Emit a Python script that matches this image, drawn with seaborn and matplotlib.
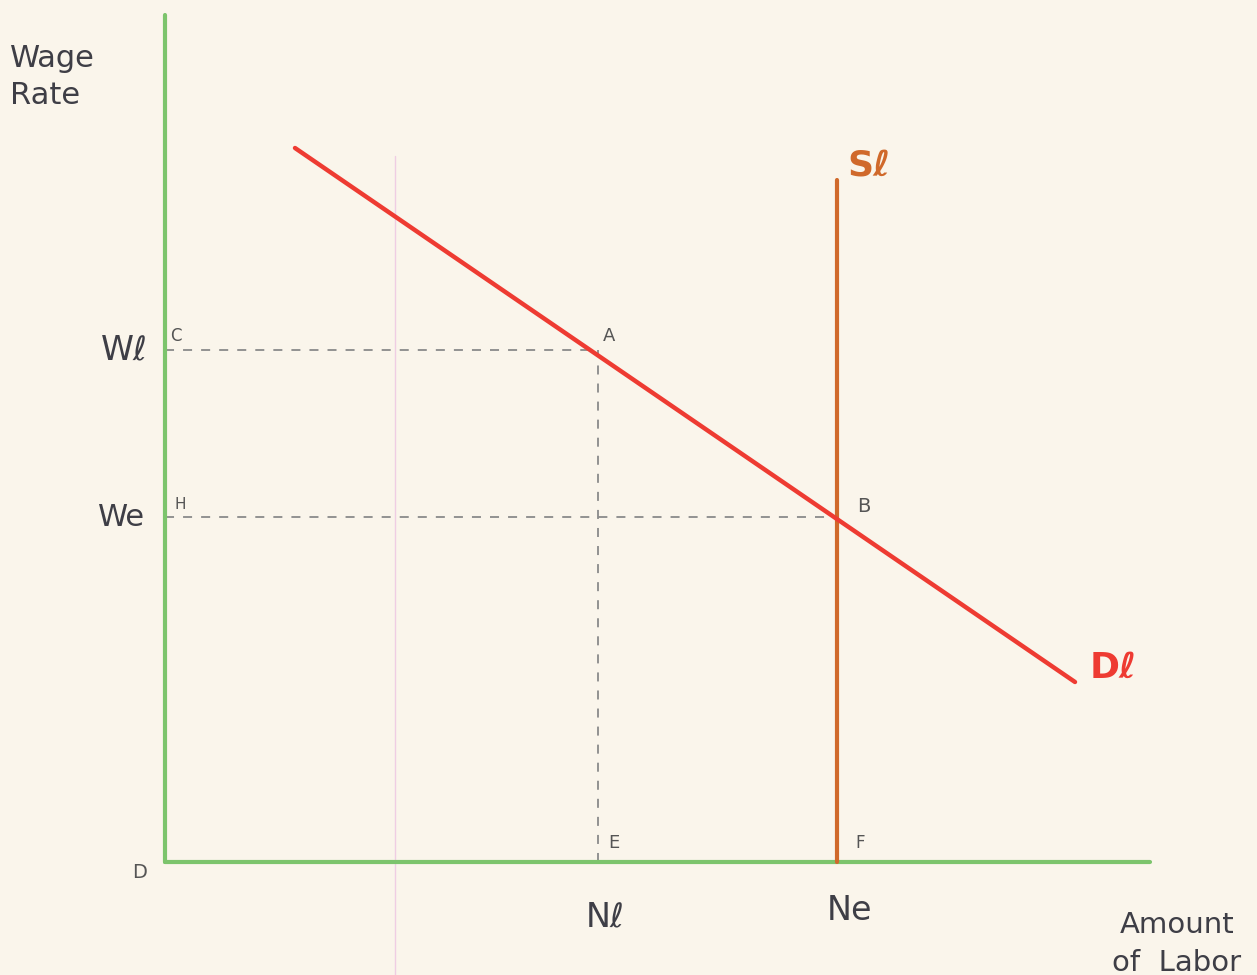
import numpy as np
import pandas as pd
import seaborn as sns
import matplotlib.pyplot as plt

# Data (units: 1 = 100 px of the original sketch, origin at D)
demand_x = [1.30, 9.10]
demand_y = [7.14, 1.80]
supply_x = [6.72, 6.72]
supply_y = [0.0, 6.82]
wage_levels = {'Wℓ': 5.12, 'We': 3.45}
labor_levels = {'Nℓ': 4.33, 'Ne': 6.72}
axis_x_end = 9.85
axis_y_end = 8.47

paper = '#FAF5EB'
sns.set_style('white', {'axes.facecolor': paper, 'figure.facecolor': paper})
plt.rcParams['font.family'] = ['DejaVu Sans']

fig = plt.figure(figsize=(12.57, 9.75), dpi=100)
ax = fig.add_axes([0, 0, 1, 1])
ax.set_xlim(-1.65, 10.92)
ax.set_ylim(-1.13, 8.62)
ax.axis('off')

# faint pink mark on the paper
ax.axvline(2.30, ymin=0.0, ymax=0.84, color='#EFCDE3', lw=1.0, zorder=0)


def pencil(x, y, color, lw, dashed=False):
    n = len(ax.lines)
    sns.lineplot(x=x, y=y, ax=ax, color=color, lw=lw, sort=False, estimator=None)
    for ln in ax.lines[n:]:
        ln.set_solid_capstyle('round')
        if dashed:
            ln.set_dashes([5, 5])


wl = wage_levels['Wℓ']
we = wage_levels['We']
nl = labor_levels['Nℓ']
ne = labor_levels['Ne']
grey = '#8A8A8A'
pencil([0, nl], [wl, wl], grey, 1.3, dashed=True)
pencil([nl, nl], [0, wl], grey, 1.3, dashed=True)
pencil([0, ne], [we, we], grey, 1.3, dashed=True)

# axes drawn in green pencil
green = '#7CC46C'
pencil([0, 0], [0, axis_y_end], green, 3)
pencil([0, axis_x_end], [0, 0], green, 3)

# supply and demand
orange = '#D0692B'
red = '#EE3B32'
pencil(supply_x, supply_y, orange, 3)
pencil(demand_x, demand_y, red, 3.2)

ink = '#3E3E46'
ax.text(-1.55, 7.85, 'Wage\nRate', fontsize=22, color=ink, va='center', ha='left', linespacing=1.35)
ax.text(-0.17, wl, 'Wℓ', fontsize=24, color=ink, ha='right', va='center')
ax.text(-0.20, we, 'We', fontsize=22, color=ink, ha='right', va='center')
ax.text(0.05, wl + 0.05, 'C', fontsize=12, color='#555555', ha='left', va='bottom')
ax.text(0.10, we + 0.05, 'H', fontsize=11, color='#555555', ha='left', va='bottom')
ax.text(nl + 0.05, wl + 0.05, 'A', fontsize=13, color='#555555', ha='left', va='bottom')
ax.text(ne + 0.20, we + 0.01, 'B', fontsize=14, color='#555555', ha='left', va='bottom')
ax.text(nl + 0.10, 0.10, 'E', fontsize=13, color='#555555', ha='left', va='bottom')
ax.text(ne + 0.18, 0.10, 'F', fontsize=12, color='#555555', ha='left', va='bottom')
ax.text(-0.18, -0.10, 'D', fontsize=14, color='#555555', ha='right', va='center')
ax.text(nl + 0.07, -0.55, 'Nℓ', fontsize=24, color=ink, ha='center', va='center')
ax.text(ne + 0.12, -0.48, 'Ne', fontsize=24, color=ink, ha='center', va='center')
ax.text(10.12, -0.82, 'Amount\nof  Labor', fontsize=21, color=ink, ha='center', va='center', linespacing=1.45)
ax.text(ne + 0.10, 6.96, 'Sℓ', fontsize=26, color=orange, ha='left', va='center', fontweight='bold')
ax.text(9.25, 1.94, 'Dℓ', fontsize=26, color=red, ha='left', va='center', fontweight='bold')

fig.savefig('out.png', dpi=100, facecolor=paper)
